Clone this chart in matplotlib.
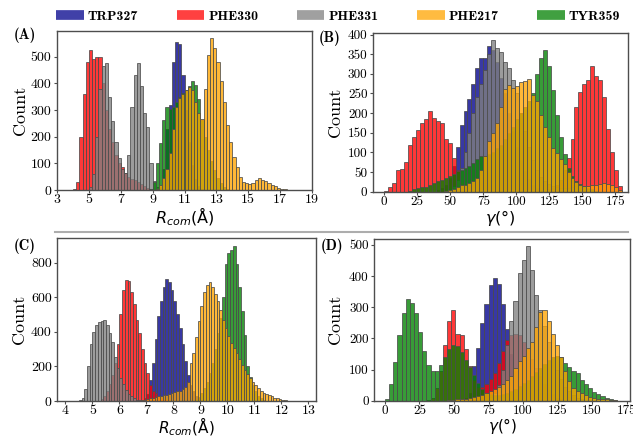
import matplotlib
matplotlib.use('Agg')
import matplotlib.pyplot as plt
from matplotlib.lines import Line2D
import numpy as np

plt.rcParams['font.family'] = 'cmr10'
plt.rcParams['axes.unicode_minus'] = False

# ---------------- data ----------------
series_names = ['TRP327', 'PHE330', 'PHE331', 'PHE217', 'TYR359']
series_colors = ['darkblue', 'red', 'gray', 'orange', 'green']

# Panel A: R_com (Angstrom), bin width 0.2
A_bin = 0.2
A_TRP327_start = 9.4
A_TRP327 = [10, 80, 230, 320, 480, 556, 550, 430, 300, 180, 95, 40, 15, 5]
A_PHE330_start = 4.0
A_PHE330 = [3, 30, 200, 360, 480, 525, 490, 500, 500, 400, 300, 230, 180, 130, 100, 88, 65,
            50, 42, 38, 30, 24, 16, 9, 4]
A_PHE331_start = 5.0
A_PHE331 = [10, 60, 200, 380, 465, 478, 350, 260, 180, 120, 80, 62, 130, 312, 430, 476, 390,
            290, 237, 100, 35, 10]
A_PHE217_start = 9.2
A_PHE217 = [5, 18, 45, 80, 140, 230, 310, 345, 360, 375, 388, 375, 330, 290, 265, 380, 506,
            569, 535, 480, 410, 330, 245, 180, 125, 87, 48, 31, 25, 22, 28, 38, 44, 38, 32,
            27, 20, 14, 8, 4, 2, 1]
A_TYR359_start = 8.8
A_TYR359 = [5, 30, 100, 175, 262, 312, 305, 310, 330, 350, 365, 375, 390, 410, 395, 340,
            262, 200, 150, 110, 75, 45, 25, 12, 5]

# Panel B: gamma (deg), bin width 3
B_bin = 3.0
B_TRP327_start = 39
B_TRP327 = [4, 10, 18, 35, 65, 115, 170, 205, 235, 275, 315, 340, 340, 372, 360, 330, 290,
            250, 200, 155, 115, 80, 52, 32, 18, 9, 4]
B_PHE330_start = 0
B_PHE330 = [3, 12, 22, 55, 58, 75, 118, 138, 157, 175, 185, 205, 188, 180, 175, 135, 125, 85,
            55, 25, 10, 4, 2] + [0] * 17 + [3, 6, 10, 18, 30, 55, 85, 135, 215, 255, 275, 285,
            320, 295, 285, 240, 160, 100, 55, 15]
B_PHE331_start = 45
B_PHE331 = [3, 8, 15, 30, 60, 100, 150, 200, 240, 275, 310, 350, 385, 365, 355, 330, 315, 285,
            250, 200, 155, 115, 80, 55, 38, 28, 20, 15, 12, 10, 10, 10, 12, 15, 15, 12, 8, 5, 3]
B_PHE217_start = 45
B_PHE217 = [2, 5, 8, 12, 16, 18, 22, 28, 35, 55, 90, 130, 150, 175, 215, 262, 272, 265, 268,
            278, 282, 288, 245, 230, 195, 165, 140, 112, 98, 82, 70, 50, 35, 25, 18, 15, 15,
            16, 18, 20, 22, 20, 17, 12, 5]
B_TYR359_start = 18
B_TYR359 = [3, 6, 9, 11, 13, 17, 21, 26, 30, 35, 40, 46, 52, 56, 60, 66, 72, 82, 90, 92, 95,
            100, 110, 120, 135, 150, 165, 185, 200, 215, 230, 250, 300, 340, 360, 320, 260,
            195, 140, 95, 60, 40, 28, 20, 15, 10, 6, 3]

# Panel C: R_com (Angstrom), bin width 0.1
C_bin = 0.1
C_TRP327_start = 6.8
C_TRP327 = [5, 15, 40, 120, 220, 360, 490, 575, 660, 705, 690, 640, 580, 500, 420, 330, 230,
            150, 95, 55, 30, 15, 7]
C_PHE330_start = 5.3
C_PHE330 = [10, 30, 60, 100, 150, 220, 330, 500, 640, 700, 695, 630, 560, 470, 390, 300, 220,
            160, 95, 60, 45, 30, 20, 14, 9, 5]
C_PHE331_start = 4.5
C_PHE331 = [5, 20, 70, 200, 330, 400, 440, 458, 462, 468, 440, 395, 340, 255, 190, 135, 100,
            65, 42, 28, 15, 8, 4]
C_PHE217_start = 6.8
C_PHE217 = [4, 8, 12, 16, 20, 24, 26, 28, 32, 36, 40, 45, 50, 55, 60, 70, 80, 110, 220, 280,
            370, 460, 550, 630, 670, 688, 660, 620, 575, 525, 470, 420, 375, 335, 305, 275,
            240, 210, 180, 155, 130, 110, 95, 75, 58, 48, 40, 33, 27, 20, 15, 10, 6, 4, 2]
C_TYR359_start = 8.8
C_TYR359 = [10, 25, 45, 75, 110, 160, 220, 300, 390, 480, 600, 790, 855, 870, 893, 790, 660,
            520, 380, 200, 140, 90, 55, 30, 15, 6]

# Panel D: gamma (deg), bin width 3
D_bin = 3.0
D_TRP327_start = 54
D_TRP327 = [4, 10, 25, 110, 170, 250, 310, 370, 395, 375, 310, 230, 150, 95, 55, 28, 12, 5]
D_PHE330_start = 30
D_PHE330 = [3, 10, 40, 95, 180, 255, 290, 215, 212, 165, 110, 65, 45, 45, 55, 70, 90, 120,
            160, 195, 210, 215, 210, 190, 165, 135, 105, 78, 55, 35, 20, 10, 5]
D_PHE331_start = 72
D_PHE331 = [5, 12, 25, 50, 100, 180, 255, 320, 410, 450, 495, 420, 340, 290, 240, 190, 140,
            100, 70, 45, 30, 18, 10, 5]
D_PHE217_start = 45
D_PHE217 = [2, 3, 4, 5, 7, 9, 11, 14, 18, 24, 30, 36, 45, 55, 65, 80, 105, 128, 145, 168,
            190, 235, 285, 290, 255, 215, 180, 140, 95, 62, 42, 30, 24, 17, 13, 10, 7, 5, 4,
            3, 2]
D_TYR359_start = 0
D_TYR359 = [5, 55, 125, 210, 280, 325, 315, 280, 220, 160, 115, 95, 95, 115, 140, 165, 180,
            175, 155, 130, 108, 82, 58, 36, 26, 20, 18, 18, 20, 24, 30, 38, 48, 58, 68, 80,
            92, 105, 118, 130, 140, 145, 140, 122, 108, 95, 88, 68, 55, 42, 28, 20, 14, 9,
            5, 3]

A_xticks = [3, 5, 7, 9, 11, 13, 15, 17, 19]
A_yticks = [0, 100, 200, 300, 400, 500]
B_xticks = [0, 25, 50, 75, 100, 125, 150, 175]
B_yticks = [0, 50, 100, 150, 200, 250, 300, 350, 400]
C_xticks = [4, 5, 6, 7, 8, 9, 10, 11, 12, 13]
C_yticks = [0, 200, 400, 600, 800]
D_xticks = [0, 25, 50, 75, 100, 125, 150, 175]
D_yticks = [0, 100, 200, 300, 400, 500]

# ---------------- figure ----------------
W, H = 633, 437
fig = plt.figure(figsize=(W / 100, H / 100), dpi=100)

def px_axes(left, top, right, bottom):
    return fig.add_axes([left / W, 1 - bottom / H, (right - left) / W, (bottom - top) / H])

color_of = dict(zip(series_names, series_colors))
draw_order = ['TRP327', 'PHE330', 'PHE331', 'TYR359', 'PHE217']

def draw_panel(ax, bw, data, xlim, ylim, xticks, yticks, xlabel, label_x, tag, tag_xy,
               axh, xl_size, xl_off):
    for name in draw_order:
        start, counts = data[name]
        edges = start + bw * np.arange(len(counts))
        ax.bar(edges, counts, width=bw, align='edge', color=color_of[name], alpha=0.78,
               edgecolor='0.3', linewidth=0.7)
    ax.set_xlim(*xlim)
    ax.set_ylim(*ylim)
    ax.set_xticks(xticks)
    ax.set_yticks(yticks)
    ax.tick_params(labelsize=10, length=2.5, width=0.8, color='0.3', pad=1.5)
    ax.tick_params(axis='x', pad=0.5)
    for s in ax.spines.values():
        s.set_color('0.3')
        s.set_linewidth(1.0)
    ax.set_xlabel(xlabel, fontfamily='DejaVu Sans', math_fontfamily='dejavusans',
                  fontsize=xl_size, va='top')
    ax.xaxis.set_label_coords(0.5, -xl_off / axh)
    ax.set_ylabel('Count', fontsize=13)
    ax.yaxis.set_label_coords(label_x, 0.5)
    fig.text(tag_xy[0] / W, 1 - tag_xy[1] / H, tag, fontfamily='cmb10', fontsize=10.5,
             ha='left', va='center')

axA = px_axes(57, 31, 312, 190)
axB = px_axes(373, 33, 628, 191.7)
axC = px_axes(57.3, 238.3, 316, 401)
axD = px_axes(374.3, 239, 630, 400.7)

dataA = {'TRP327': (A_TRP327_start, A_TRP327), 'PHE330': (A_PHE330_start, A_PHE330),
         'PHE331': (A_PHE331_start, A_PHE331), 'PHE217': (A_PHE217_start, A_PHE217),
         'TYR359': (A_TYR359_start, A_TYR359)}
dataB = {'TRP327': (B_TRP327_start, B_TRP327), 'PHE330': (B_PHE330_start, B_PHE330),
         'PHE331': (B_PHE331_start, B_PHE331), 'PHE217': (B_PHE217_start, B_PHE217),
         'TYR359': (B_TYR359_start, B_TYR359)}
dataC = {'TRP327': (C_TRP327_start, C_TRP327), 'PHE330': (C_PHE330_start, C_PHE330),
         'PHE331': (C_PHE331_start, C_PHE331), 'PHE217': (C_PHE217_start, C_PHE217),
         'TYR359': (C_TYR359_start, C_TYR359)}
dataD = {'TRP327': (D_TRP327_start, D_TRP327), 'PHE330': (D_PHE330_start, D_PHE330),
         'PHE331': (D_PHE331_start, D_PHE331), 'PHE217': (D_PHE217_start, D_PHE217),
         'TYR359': (D_TYR359_start, D_TYR359)}

draw_panel(axA, A_bin, dataA, (3, 19), (0, 597), A_xticks, A_yticks,
           r'$R_{com}$(Å)', -0.114, '(A)', (14, 35), 159, 11.5, 16)
draw_panel(axB, B_bin, dataB, (-8.5, 184.5), (0, 404), B_xticks, B_yticks,
           r'$\gamma$(°)', -0.118, '(B)', (319, 38), 158.7, 11.5, 16)
draw_panel(axC, C_bin, dataC, (3.7, 13.28), (0, 940), C_xticks, C_yticks,
           r'$R_{com}$(Å)', -0.117, '(C)', (14, 246), 162.7, 11, 15)
draw_panel(axD, D_bin, dataD, (-7.7, 177.4), (0, 519), D_xticks, D_yticks,
           r'$\gamma$(°)', -0.122, '(D)', (321, 246), 161.7, 11, 15)
axB.tick_params(labelsize=9.5)
axD.tick_params(labelsize=9.5)

# separator line
fig.add_artist(Line2D([55 / W, 628 / W], [1 - 231.7 / H, 1 - 231.7 / H], color='0.68', lw=1.5))

# legend
handles = [Line2D([0], [0], color=c, alpha=0.75, lw=7, solid_capstyle='butt')
           for c in series_colors]
fig.legend(handles, series_names, loc='center left', bbox_to_anchor=(56 / W, 1 - 17 / H),
           ncol=5, frameon=False, prop={'family': 'cmb10', 'size': 10},
           handlelength=2.0, handletextpad=0.3, columnspacing=2.75,
           borderpad=0, borderaxespad=0)

fig.savefig('out.png', dpi=100)
